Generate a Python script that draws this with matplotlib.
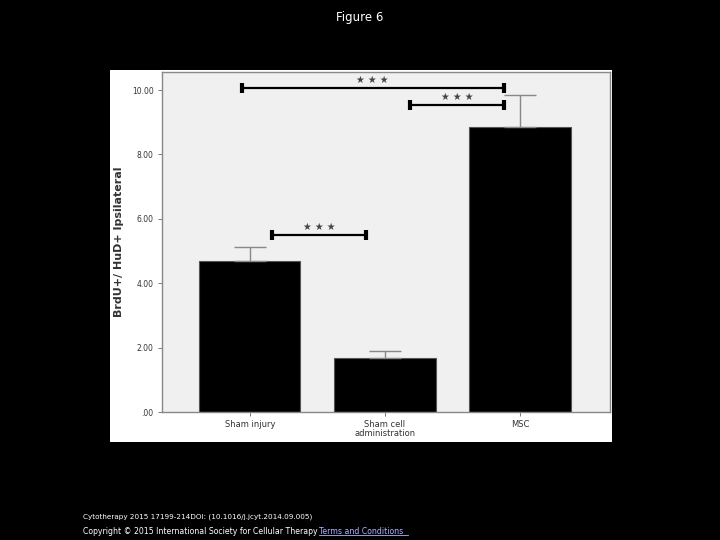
import matplotlib
matplotlib.use("Agg")
import matplotlib.pyplot as plt
from matplotlib.patches import Rectangle
from matplotlib.lines import Line2D

categories = ["Sham injury", "Sham cell\nadministration", "MSC"]
means = [4.69, 1.68, 8.85]
errors = [0.43, 0.21, 0.99]
yticks = [0, 2, 4, 6, 8, 10]
ytick_labels = [".00", "2.00", "4.00", "6.00", "8.00", "10.00"]
# significance brackets: (x start, x end, y level, label)
sig_x1 = [-0.06, 1.185, 0.163]
sig_x2 = [1.88, 1.88, 0.86]
sig_y = [10.06, 9.53, 5.50]
sig_labels = ["\u2605 \u2605 \u2605"] * 3

fig = plt.figure(figsize=(7.2, 5.4), dpi=100, facecolor="black")

# white panel behind the chart
fig.patches.append(Rectangle((110/720, 98/540), 502/720, 372/540,
                             transform=fig.transFigure, facecolor="white",
                             edgecolor="none", zorder=-5))

ax = fig.add_axes([162/720, 128/540, 448/720, 340/540])
ax.set_zorder(2)
ax.set_facecolor("#f0f0f0")
x = list(range(len(categories)))
ax.bar(x, means, width=0.75, color="black", edgecolor="#555555", linewidth=0.8, zorder=2)
ax.errorbar(x, means, yerr=[[0]*3, errors], fmt="none", ecolor="#888888",
            elinewidth=1.0, capsize=11.5, capthick=1.0, zorder=3)

for x1, x2, y, lab in zip(sig_x1, sig_x2, sig_y, sig_labels):
    ax.plot([x1, x2], [y, y], color="black", lw=1.6, zorder=4)
    ax.plot([x1, x2], [y, y], ls="none", marker="|", markersize=7, mew=3,
            color="black", zorder=4)
    ax.text((x1 + x2) / 2, y + 0.1, lab, ha="center", va="bottom",
            fontsize=7, color="#444444")

ax.set_xlim(-0.65, 2.667)
ax.set_ylim(0, 10.56)
ax.set_yticks(yticks)
ax.set_yticklabels(ytick_labels, fontsize=5.5, color="#333333")
ax.set_xticks(x)
ax.set_xticklabels(categories, fontsize=6, color="#333333", linespacing=1.0)
ax.tick_params(axis="both", length=3, width=0.6, color="#666666", pad=3)
for s in ax.spines.values():
    s.set_color("#888888")
    s.set_linewidth(1.0)
ax.set_ylabel("BrdU+/ HuD+ Ipsilateral", fontsize=8, fontweight="bold",
              color="#333333", labelpad=6)

fig.text(0.5, 1 - 18/540, "Figure 6", ha="center", va="center",
         color="white", fontsize=8.5)
fig.text(83/720, 1 - 517/540,
         "Cytotherapy 2015 17199-214DOI: (10.1016/j.jcyt.2014.09.005)",
         ha="left", va="center", color="white", fontsize=5.2)
fig.text(83/720, 1 - 531/540,
         "Copyright \u00a9 2015 International Society for Cellular Therapy",
         ha="left", va="center", color="white", fontsize=5.6)
fig.text(319/720, 1 - 531/540, "Terms and Conditions", ha="left", va="center",
         color="#b0b4ff", fontsize=5.6)
fig.add_artist(Line2D([319/720, 408/720], [1 - 535/540, 1 - 535/540],
                      transform=fig.transFigure, color="#b0b4ff", lw=0.6))

fig.savefig("out.png", dpi=100, facecolor="black")
